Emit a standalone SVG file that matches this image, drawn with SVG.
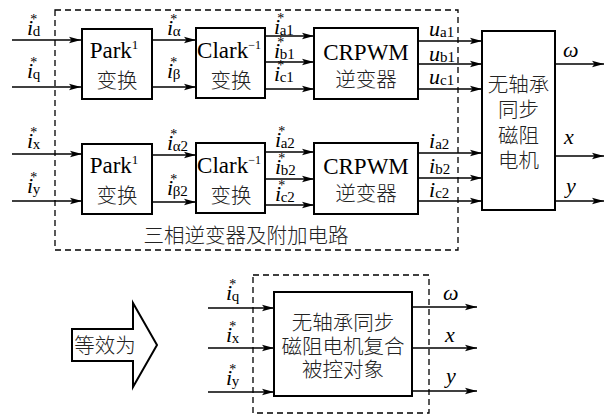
<svg xmlns="http://www.w3.org/2000/svg" width="610" height="414" viewBox="0 0 610 414">
<defs>
<marker id="ah" markerUnits="userSpaceOnUse" markerWidth="14" markerHeight="8" refX="12" refY="4" orient="auto">
<path d="M0,0.8 L12,4 L0,7.2 L2.5,4 z" fill="#000"/>
</marker>
<style>
.box{fill:#fff;stroke:#000;stroke-width:2}
.dash{fill:none;stroke:#000;stroke-width:1.3;stroke-dasharray:6 4}
.ln{fill:none;stroke:#000;stroke-width:1.5;marker-end:url(#ah)}
.en{font-family:"Liberation Serif",serif;font-size:23px;fill:#000}
.zh{font-family:"Noto Sans CJK SC",sans-serif;font-size:20.5px;fill:#222;font-weight:300}
.v{font-family:"Liberation Serif",serif;font-size:22px;font-style:italic;fill:#000}
.s{font-family:"Liberation Serif",serif;font-size:15px;font-style:normal}
.st{font-family:"Liberation Serif",serif;font-size:14px;font-style:normal}
</style>
</defs>
<rect width="610" height="414" fill="#fff"/>

<g id="frames">
<rect class="dash" x="55" y="10" width="403" height="240"/>
<rect class="dash" x="253" y="275" width="176" height="138"/>
<text class="zh" x="246" y="243" text-anchor="middle">三相逆变器及附加电路</text>
</g>

<g id="connectors">
<path class="ln" d="M12,40 H81"/>
<path class="ln" d="M12,87 H81"/>
<path class="ln" d="M152,40 H196"/>
<path class="ln" d="M152,87 H196"/>
<path class="ln" d="M265,36 H314"/>
<path class="ln" d="M265,62 H314"/>
<path class="ln" d="M265,89 H314"/>
<path class="ln" d="M418,41 H482"/>
<path class="ln" d="M418,64 H482"/>
<path class="ln" d="M418,89 H482"/>
<path class="ln" d="M555,64 H604"/>
<path class="ln" d="M12,154 H82"/>
<path class="ln" d="M12,201 H82"/>
<path class="ln" d="M152,155 H196"/>
<path class="ln" d="M152,202 H196"/>
<path class="ln" d="M265,152 H314"/>
<path class="ln" d="M265,179 H314"/>
<path class="ln" d="M265,205 H314"/>
<path class="ln" d="M418,153 H482"/>
<path class="ln" d="M418,178 H482"/>
<path class="ln" d="M418,201 H482"/>
<path class="ln" d="M555,156 H604"/>
<path class="ln" d="M555,201 H604"/>
<path class="ln" d="M208,308 H274"/>
<path class="ln" d="M208,348 H274"/>
<path class="ln" d="M208,392 H274"/>
<path class="ln" d="M412,307 H477"/>
<path class="ln" d="M412,348 H477"/>
<path class="ln" d="M412,391 H477"/>
</g>

<g id="park1">
<rect class="box" x="82" y="29" width="70" height="70"/>
<text class="en" x="114" y="58" text-anchor="middle">Park<tspan font-size="13" dy="-9">1</tspan></text>
<text class="zh" x="117" y="88" text-anchor="middle">变换</text>
</g>
<g id="clark1">
<rect class="box" x="196" y="28" width="69" height="70"/>
<text class="en" x="229" y="58" text-anchor="middle" font-size="22">Clark<tspan font-size="12" dy="-9">−1</tspan></text>
<text class="zh" x="231" y="88" text-anchor="middle">变换</text>
</g>
<g id="crpwm1">
<rect class="box" x="314" y="28" width="104" height="71"/>
<text class="en" x="366" y="60" text-anchor="middle">CRPWM</text>
<text class="zh" x="366" y="87" text-anchor="middle">逆变器</text>
</g>
<g id="park2">
<rect class="box" x="82" y="144" width="70" height="70"/>
<text class="en" x="114" y="173" text-anchor="middle">Park<tspan font-size="13" dy="-9">1</tspan></text>
<text class="zh" x="117" y="203" text-anchor="middle">变换</text>
</g>
<g id="clark2">
<rect class="box" x="196" y="143" width="69" height="70"/>
<text class="en" x="229" y="173" text-anchor="middle" font-size="22">Clark<tspan font-size="12" dy="-9">−1</tspan></text>
<text class="zh" x="231" y="203" text-anchor="middle">变换</text>
</g>
<g id="crpwm2">
<rect class="box" x="314" y="143" width="104" height="71"/>
<text class="en" x="366" y="174" text-anchor="middle">CRPWM</text>
<text class="zh" x="366" y="201" text-anchor="middle">逆变器</text>
</g>
<g id="motor">
<rect class="box" x="482" y="31" width="73" height="179"/>
<text class="zh" x="518.5" y="92" text-anchor="middle">无轴承</text>
<text class="zh" x="518.5" y="117" text-anchor="middle">同步</text>
<text class="zh" x="518.5" y="143" text-anchor="middle">磁阻</text>
<text class="zh" x="518.5" y="168" text-anchor="middle">电机</text>
</g>
<g id="equiv">
<path d="M72,329 H133 V303 L157,345 L133,387 V361 H72 Z" fill="#fff" stroke="#000" stroke-width="2"/>
<text class="zh" x="105" y="353" text-anchor="middle" font-size="19.5">等效为</text>
</g>
<g id="plant">
<rect class="box" x="274" y="292" width="138" height="104"/>
<text class="zh" x="343" y="330" text-anchor="middle">无轴承同步</text>
<text class="zh" x="343" y="354" text-anchor="middle">磁阻电机复合</text>
<text class="zh" x="343" y="377" text-anchor="middle">被控对象</text>
</g>

<g id="labels">
<text class="v" x="27" y="35">i<tspan class="st" dx="-3" dy="-11">*</tspan><tspan class="s" dx="-4.5" dy="12">d</tspan></text>
<text class="v" x="27" y="78">i<tspan class="st" dx="-3" dy="-11">*</tspan><tspan class="s" dx="-4.5" dy="12">q</tspan></text>
<text class="v" x="167" y="35">i<tspan class="st" dx="-3" dy="-11">*</tspan><tspan class="s" dx="-4.5" dy="12">α</tspan></text>
<text class="v" x="167" y="78">i<tspan class="st" dx="-3" dy="-11">*</tspan><tspan class="s" dx="-4.5" dy="12">β</tspan></text>
<text class="v" x="274" y="34">i<tspan class="st" dx="-3" dy="-11">*</tspan><tspan class="s" dx="-4.5" dy="12">a1</tspan></text>
<text class="v" x="274" y="58">i<tspan class="st" dx="-3" dy="-11">*</tspan><tspan class="s" dx="-4.5" dy="12">b1</tspan></text>
<text class="v" x="274" y="81">i<tspan class="st" dx="-3" dy="-11">*</tspan><tspan class="s" dx="-4.5" dy="12">c1</tspan></text>
<text class="v" x="429" y="36">u<tspan class="s" dy="1">a1</tspan></text>
<text class="v" x="429" y="61">u<tspan class="s" dy="1">b1</tspan></text>
<text class="v" x="429" y="84">u<tspan class="s" dy="1">c1</tspan></text>
<text class="v" x="563" y="57">ω</text>
<text class="v" x="27" y="148">i<tspan class="st" dx="-3" dy="-11">*</tspan><tspan class="s" dx="-4.5" dy="12">x</tspan></text>
<text class="v" x="27" y="193">i<tspan class="st" dx="-3" dy="-11">*</tspan><tspan class="s" dx="-4.5" dy="12">y</tspan></text>
<text class="v" x="167" y="150">i<tspan class="st" dx="-3" dy="-11">*</tspan><tspan class="s" dx="-4.5" dy="12">α2</tspan></text>
<text class="v" x="167" y="195">i<tspan class="st" dx="-3" dy="-11">*</tspan><tspan class="s" dx="-4.5" dy="12">β2</tspan></text>
<text class="v" x="275" y="147">i<tspan class="st" dx="-3" dy="-11">*</tspan><tspan class="s" dx="-4.5" dy="12">a2</tspan></text>
<text class="v" x="275" y="174">i<tspan class="st" dx="-3" dy="-11">*</tspan><tspan class="s" dx="-4.5" dy="12">b2</tspan></text>
<text class="v" x="275" y="201">i<tspan class="st" dx="-3" dy="-11">*</tspan><tspan class="s" dx="-4.5" dy="12">c2</tspan></text>
<text class="v" x="429" y="148">i<tspan class="s" dy="1">a2</tspan></text>
<text class="v" x="429" y="173">i<tspan class="s" dy="1">b2</tspan></text>
<text class="v" x="429" y="197">i<tspan class="s" dy="1">c2</tspan></text>
<text class="v" x="564" y="144">x</text>
<text class="v" x="566" y="193">y</text>
<text class="v" x="226" y="300">i<tspan class="st" dx="-3" dy="-11">*</tspan><tspan class="s" dx="-4.5" dy="12">q</tspan></text>
<text class="v" x="226" y="342">i<tspan class="st" dx="-3" dy="-11">*</tspan><tspan class="s" dx="-4.5" dy="12">x</tspan></text>
<text class="v" x="226" y="385">i<tspan class="st" dx="-3" dy="-11">*</tspan><tspan class="s" dx="-4.5" dy="12">y</tspan></text>
<text class="v" x="443" y="300">ω</text>
<text class="v" x="445" y="342">x</text>
<text class="v" x="446" y="383">y</text>
</g>
</svg>
